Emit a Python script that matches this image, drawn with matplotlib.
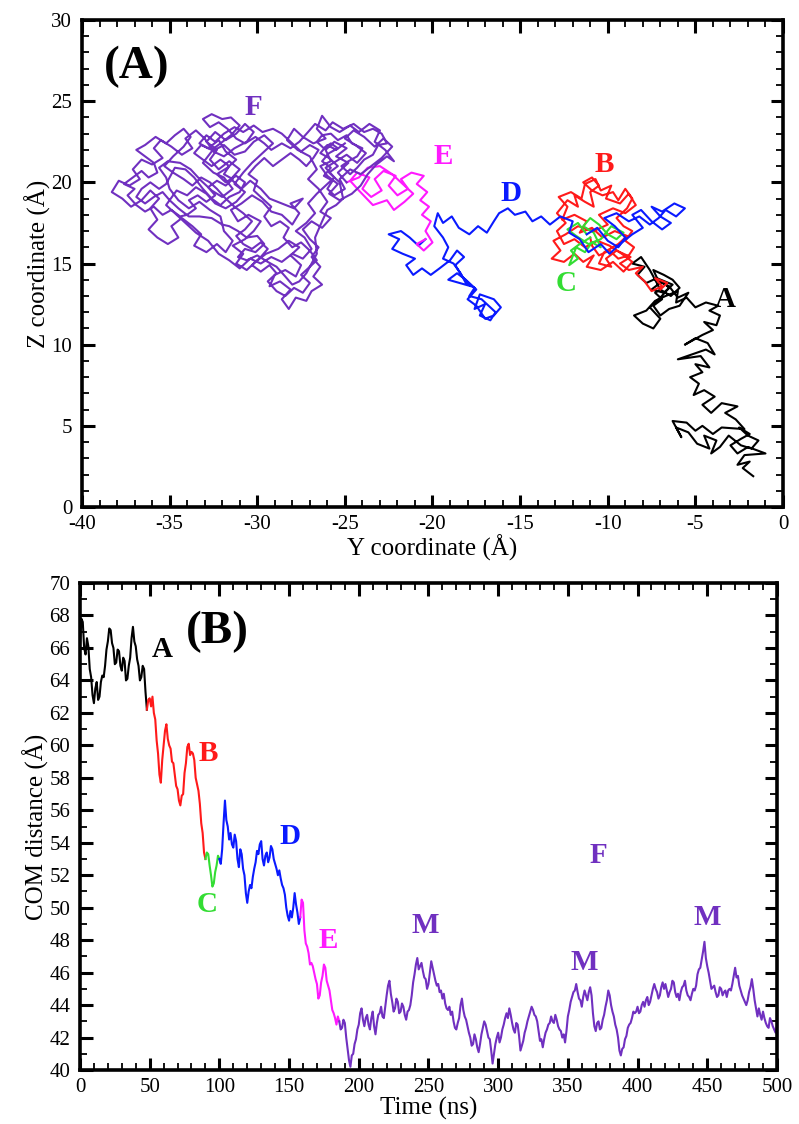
import numpy as np
import matplotlib
matplotlib.use("Agg")
import matplotlib.pyplot as plt
from matplotlib.ticker import MultipleLocator

plt.rcParams['font.family'] = ['Liberation Serif', 'DejaVu Serif']
plt.rcParams['axes.unicode_minus'] = False

colors = {'A': 'black', 'B': '#ff1a1a', 'C': '#33dd33', 'D': '#0a1aff',
          'E': '#ff1aff', 'F': '#7030c0'}

# ---- panel A: (Y, Z) trajectory, one list per stage ----
traj_A = [(-1.7, 1.9), (-2.3, 2.4), (-1.9, 2.8), (-2.6, 2.6), (-2.2, 3.2), (-1.0, 3.3),
          (-2.0, 3.7), (-2.6, 3.3), (-3.0, 3.8), (-2.4, 4.2), (-1.9, 4.5), (-2.5, 4.9),
          (-2.0, 4.4), (-1.4, 4.1), (-1.8, 3.6), (-2.4, 3.8),
          (-3.1, 4.4), (-3.6, 3.7), (-4.1, 3.3), (-3.8, 4.1), (-4.5, 4.4), (-4.2, 3.6),
          (-4.9, 3.9), (-5.4, 4.6), (-6.1, 4.9), (-5.8, 4.3), (-6.3, 5.3), (-5.5, 5.2),
          (-5.0, 4.7), (-4.6, 5.0), (-4.0, 4.5), (-3.5, 4.9), (-2.2, 4.8), (-2.7, 5.4),
          (-3.3, 5.8), (-2.6, 6.2), (-3.5, 6.4), (-4.1, 5.8), (-4.6, 6.3), (-3.9, 6.8),
          (-4.5, 7.2), (-5.1, 6.9), (-4.8, 7.6), (-5.3, 8.0), (-4.6, 8.3), (-5.0, 8.8),
          (-4.2, 8.6), (-4.7, 9.3), (-6.0, 9.1), (-4.4, 9.7), (-3.9, 9.4), (-4.3, 10.1),
          (-5.0, 10.4), (-5.6, 10.0), (-4.6, 10.6), (-4.0, 10.9), (-4.5, 11.4), (-3.8, 11.2),
          (-3.6, 11.8), (-4.2, 12.1), (-3.7, 12.4), (-4.4, 12.6), (-5.0, 12.3), (-5.5, 12.9),
          (-6.1, 12.6), (-6.0, 13.3), (-6.7, 13.0), (-7.3, 12.7), (-7.8, 12.1), (-8.5, 11.8),
          (-8.0, 11.3), (-7.4, 11.0), (-7.0, 11.6), (-7.6, 12.3), (-7.0, 12.9), (-6.5, 13.5),
          (-6.9, 13.9), (-7.5, 13.4), (-6.8, 13.2), (-6.3, 13.7), (-7.2, 14.1), (-7.8, 13.8),
          (-8.3, 14.3), (-7.9, 14.8), (-8.6, 15.0), (-8.1, 15.4), (-7.6, 14.6), (-7.0, 13.4),
          (-6.4, 13.0), (-5.9, 13.5), (-6.3, 14.0), (-6.8, 14.3), (-7.4, 14.6), (-7.1, 13.9),
          (-6.5, 13.6), (-6.0, 12.9), (-5.4, 13.2), (-5.9, 12.4), (-6.5, 12.2), (-7.0, 11.8),
          (-7.4, 12.4), (-6.9, 12.8), (-7.3, 13.2), (-7.0, 13.4)]

traj_B = [(-7.0, 13.4), (-6.6, 13.8), (-7.3, 14.1), (-6.9, 13.6), (-7.5, 13.3), (-7.9, 13.9),
          (-8.4, 14.4), (-8.0, 14.8), (-8.8, 14.6), (-9.3, 15.0), (-8.7, 15.4), (-9.5, 15.8),
          (-10.1, 15.3), (-9.8, 14.8), (-10.5, 15.0), (-10.2, 15.7), (-9.4, 16.2), (-8.9, 16.7),
          (-9.6, 17.0), (-10.3, 16.6), (-10.9, 17.2), (-11.6, 16.9), (-11.2, 17.6), (-11.9, 18.0),
          (-12.6, 17.7), (-12.3, 18.5), (-12.8, 19.1), (-12.1, 19.4), (-11.5, 19.0), (-11.3, 19.9),
          (-10.7, 20.2), (-10.4, 19.5), (-9.8, 19.8), (-10.1, 19.0), (-9.3, 18.7), (-8.8, 19.3),
          (-8.4, 18.6), (-9.0, 18.1), (-9.7, 18.4), (-10.5, 18.0), (-10.0, 17.4), (-10.8, 17.0),
          (-11.7, 17.3), (-12.4, 16.8), (-13.1, 16.4), (-12.7, 15.8), (-13.2, 15.3), (-12.5, 15.1),
          (-11.9, 15.6), (-11.4, 15.1), (-10.8, 15.5), (-11.2, 14.8), (-10.4, 14.6), (-9.7, 15.1),
          (-9.1, 14.5), (-8.6, 15.1), (-9.2, 15.6), (-9.9, 16.1), (-10.6, 16.4), (-11.3, 16.0),
          (-11.9, 16.5), (-12.5, 16.2), (-12.9, 17.0), (-12.4, 17.5), (-12.9, 18.1), (-12.3, 18.9),
          (-11.7, 18.5), (-11.9, 19.2), (-11.3, 18.8), (-10.8, 18.5), (-11.0, 19.4), (-10.5, 19.8),
          (-10.9, 20.3), (-11.4, 20.0), (-10.9, 19.5), (-10.3, 19.2), (-9.7, 19.4), (-9.4, 18.9),
          (-9.0, 19.6), (-8.6, 19.0), (-8.9, 18.4), (-9.5, 17.8), (-9.1, 17.3), (-8.6, 17.0),
          (-9.0, 16.4), (-8.5, 16.0), (-8.8, 15.5), (-9.4, 15.3), (-9.9, 15.8), (-10.5, 15.5),
          (-10.9, 16.1), (-11.0, 16.6)]

traj_C = [(-11.0, 16.6), (-11.6, 16.2), (-12.1, 15.8), (-11.7, 15.3), (-12.2, 14.9), (-11.8, 16.0),
          (-11.3, 15.7), (-10.9, 16.3), (-10.4, 16.0), (-10.8, 16.9), (-11.4, 17.3), (-11.0, 17.8),
          (-10.5, 17.4), (-10.0, 16.8), (-9.5, 16.5), (-9.1, 16.9), (-9.8, 17.3), (-10.4, 16.5),
          (-11.1, 16.2), (-11.8, 16.7), (-12.3, 17.1), (-11.7, 17.5), (-11.2, 16.8)]

traj_D = [(-11.2, 16.8), (-10.6, 17.2), (-10.0, 16.4), (-9.4, 16.0), (-9.0, 16.6), (-9.6, 17.3),
          (-10.2, 17.8), (-9.5, 18.1), (-8.8, 17.6), (-8.2, 17.9), (-7.6, 17.4), (-7.1, 17.8),
          (-6.7, 18.3), (-6.1, 17.9), (-5.6, 18.4), (-6.2, 18.7), (-6.9, 18.2), (-7.5, 18.5),
          (-7.0, 17.9), (-6.4, 17.5), (-6.9, 17.1), (-7.5, 17.6), (-8.1, 18.3), (-8.6, 18.0),
          (-8.0, 17.2), (-8.6, 16.8), (-9.3, 16.2), (-9.9, 15.6), (-10.4, 16.2), (-11.1, 15.7),
          (-11.6, 16.5), (-12.2, 16.9), (-12.0, 17.6), (-12.7, 17.9), (-13.3, 17.4), (-13.8, 17.9),
          (-14.3, 17.6), (-14.7, 18.2), (-15.3, 18.0), (-15.7, 18.4), (-16.2, 18.1), (-16.5, 17.6),
          (-16.9, 16.9), (-17.4, 17.3), (-17.9, 16.8), (-18.5, 17.2), (-18.9, 17.9), (-19.4, 17.5),
          (-19.7, 18.1), (-19.9, 17.3), (-19.4, 16.6), (-19.1, 16.0), (-19.4, 15.3), (-18.8, 15.0),
          (-18.4, 14.4), (-18.1, 13.8), (-17.6, 13.5), (-17.9, 13.0), (-17.2, 12.8), (-16.8, 12.4),
          (-16.4, 12.0), (-16.7, 11.5), (-17.3, 11.8), (-17.0, 12.5), (-17.6, 12.2), (-17.3, 13.1),
          (-16.5, 12.8), (-16.1, 12.3), (-16.5, 11.8), (-17.0, 11.6), (-17.5, 12.4), (-18.0, 12.8),
          (-17.5, 13.4), (-18.1, 14.0), (-18.6, 14.4), (-19.1, 14.0),
          (-17.8, 13.6), (-18.3, 14.2), (-18.7, 14.9), (-18.2, 15.4), (-18.6, 15.8), (-19.0, 15.2),
          (-19.6, 14.7), (-20.1, 14.3), (-20.6, 14.7), (-21.1, 14.3), (-21.5, 14.9), (-21.0, 15.3),
          (-21.7, 15.6), (-22.3, 15.9), (-21.9, 16.5), (-22.5, 16.8), (-21.8, 17.0), (-21.3, 16.6),
          (-20.8, 16.1), (-20.4, 16.5)]

traj_E = [(-20.4, 16.5), (-20.9, 16.2), (-20.5, 15.8), (-20.0, 16.3), (-20.4, 17.0), (-20.1, 17.6),
          (-20.6, 18.0), (-20.2, 18.5), (-20.7, 18.9), (-20.3, 19.4), (-20.9, 19.9), (-20.5, 20.4),
          (-21.2, 20.6), (-21.8, 20.2), (-21.4, 19.6), (-22.0, 19.2), (-22.5, 19.8), (-22.1, 20.4),
          (-22.8, 20.7), (-23.3, 20.2), (-22.9, 19.5), (-23.5, 19.1), (-24.0, 19.6), (-23.6, 20.3),
          (-24.3, 20.6), (-24.7, 20.1), (-24.2, 19.5), (-23.4, 18.6), (-22.6, 18.9), (-22.2, 18.3),
          (-21.6, 18.8), (-21.1, 19.3), (-21.7, 19.9), (-22.3, 20.5), (-23.0, 21.0), (-23.7, 20.9),
          (-24.2, 20.3), (-24.9, 20.0)]

traj_F = [(-24.9, 20.0), (-25.4, 20.6), (-24.8, 21.2), (-25.5, 21.6), (-24.9, 22.1), (-25.6, 22.5),
          (-26.1, 22.0), (-25.8, 21.3), (-26.4, 21.0), (-26.0, 20.4), (-25.4, 19.9), (-25.9, 19.3),
          (-25.3, 18.9), (-24.6, 19.3), (-24.1, 19.8), (-23.7, 20.5), (-23.2, 21.1), (-22.6, 21.6),
          (-22.2, 21.3), (-22.7, 22.0), (-23.3, 22.5), (-23.0, 23.2), (-23.6, 23.6), (-24.2, 23.1),
          (-24.7, 23.5), (-25.3, 23.1), (-25.8, 23.4), (-26.3, 24.1), (-26.6, 23.3), (-26.1, 22.7),
          (-26.8, 22.4), (-27.4, 22.8), (-27.9, 23.3), (-28.3, 22.6), (-27.7, 22.0), (-27.0, 21.6),
          (-26.6, 20.8), (-27.1, 20.2), (-26.5, 19.6), (-26.0, 18.8), (-26.4, 18.2), (-25.8, 17.8),
          (-26.3, 17.2), (-26.9, 17.6), (-27.4, 17.1), (-27.0, 16.5), (-26.5, 16.0), (-26.9, 15.4),
          (-26.4, 14.8), (-26.8, 14.2), (-26.3, 13.7), (-26.9, 13.3), (-27.2, 12.7), (-27.8, 12.9),
          (-28.2, 12.2), (-28.6, 12.8), (-28.1, 13.4), (-28.7, 13.9), (-29.3, 13.6), (-29.0, 14.3),
          (-28.4, 14.6), (-27.8, 14.2), (-27.5, 14.9), (-28.1, 15.5), (-27.6, 16.0), (-28.2, 16.4),
          (-28.8, 15.9), (-29.5, 15.6), (-30.1, 15.1), (-30.6, 14.6), (-31.2, 15.0), (-30.8, 15.6),
          (-31.4, 16.1), (-30.7, 16.5), (-30.2, 17.0), (-29.8, 17.6), (-30.5, 18.0), (-31.1, 17.6),
          (-31.5, 18.3), (-30.9, 18.7), (-30.3, 19.2), (-29.7, 18.8), (-29.2, 18.2), (-28.6, 18.0),
          (-28.0, 17.4), (-27.6, 18.1), (-28.1, 18.7), (-27.4, 19.0), (-27.9, 18.4), (-28.6, 18.7),
          (-29.3, 19.0), (-29.8, 19.6), (-30.4, 20.1), (-30.9, 19.6), (-31.5, 20.2), (-31.0, 20.8),
          (-31.6, 21.3), (-32.2, 20.8), (-32.7, 21.4), (-32.3, 22.0), (-32.9, 22.5), (-32.4, 23.1),
          (-31.8, 22.6), (-31.2, 23.0), (-30.7, 23.6), (-30.2, 23.1), (-30.6, 22.5), (-31.3, 22.1),
          (-31.9, 21.6), (-32.5, 21.9), (-33.0, 22.7), (-33.5, 23.2), (-34.1, 22.7), (-33.7, 22.1),
          (-34.3, 21.7), (-34.9, 22.2), (-35.5, 22.6), (-35.9, 22.1), (-35.4, 21.5), (-36.0, 21.1),
          (-36.6, 21.4), (-37.1, 20.8), (-36.7, 20.2), (-37.3, 19.8), (-37.9, 20.1), (-38.3, 19.4),
          (-37.7, 19.0), (-37.2, 18.5), (-36.6, 18.9), (-36.1, 19.5), (-35.6, 19.0), (-36.1, 18.4),
          (-35.7, 17.7), (-36.2, 17.1), (-35.7, 16.6), (-35.1, 16.2), (-34.5, 16.6), (-34.9, 17.3),
          (-34.3, 17.8), (-33.7, 17.3), (-33.2, 16.8), (-33.6, 16.1), (-32.9, 15.7), (-32.3, 16.2),
          (-31.8, 15.7), (-31.4, 16.4), (-31.9, 17.0), (-32.1, 17.9), (-32.7, 18.3), (-33.3, 18.8),
          (-33.9, 18.4), (-34.5, 18.9), (-35.0, 19.6), (-35.2, 20.3), (-35.6, 20.9), (-35.1, 21.3),
          (-34.4, 21.2), (-33.8, 20.8), (-33.2, 20.1), (-32.6, 19.5), (-32.0, 19.1), (-31.4, 19.6),
          (-31.9, 20.3), (-32.5, 20.6), (-33.1, 21.2), (-32.6, 21.9), (-31.9, 22.3), (-31.3, 21.7),
          (-30.7, 21.9), (-30.2, 22.5), (-29.6, 22.9), (-29.1, 22.4), (-29.7, 21.8), (-30.3, 21.2),
          (-30.8, 20.6), (-31.3, 19.9), (-30.7, 19.4), (-31.2, 18.8), (-31.8, 18.4), (-32.4, 18.7),
          (-32.9, 19.3), (-33.5, 19.7), (-34.0, 19.2), (-34.6, 19.5), (-35.2, 18.6), (-34.7, 18.1),
          (-34.1, 17.5), (-33.5, 16.9), (-32.8, 16.4), (-32.2, 15.6), (-31.6, 15.2), (-31.0, 14.7),
          (-30.4, 15.3), (-29.8, 15.0), (-29.2, 15.4), (-28.6, 15.1), (-28.0, 15.6), (-27.4, 15.3),
          (-26.9, 15.9), (-27.3, 16.6), (-27.8, 17.0), (-27.2, 17.5), (-26.7, 18.1), (-27.1, 18.7),
          (-26.6, 19.3), (-26.1, 19.8), (-25.6, 20.3), (-26.1, 20.9), (-25.5, 21.3), (-24.9, 21.7),
          (-24.3, 21.2), (-23.8, 21.8), (-24.4, 22.3), (-25.0, 22.7), (-24.5, 23.2), (-23.9, 22.8),
          (-23.3, 22.2), (-22.8, 22.7), (-22.3, 22.2), (-22.9, 21.5), (-23.5, 21.0), (-24.1, 20.5),
          (-24.7, 20.8), (-25.3, 20.2), (-25.0, 19.6), (-25.6, 19.2),
          (-26.0, 19.6), (-25.7, 20.1), (-26.2, 20.4), (-25.8, 20.9), (-26.3, 21.3), (-25.9, 21.8),
          (-25.4, 22.1), (-25.8, 22.4), (-26.2, 22.1), (-26.6, 22.5), (-26.3, 22.9), (-25.8, 23.0),
          (-25.4, 22.6), (-24.9, 22.9), (-24.6, 22.4), (-24.0, 22.1), (-24.3, 21.6), (-24.8, 21.3),
          (-25.2, 21.0), (-24.7, 20.5), (-24.3, 20.9), (-23.9, 21.4), (-23.4, 21.7), (-23.1, 22.3),
          (-22.6, 22.4), (-22.9, 23.0), (-23.4, 23.3), (-23.9, 23.1), (-24.5, 23.6), (-25.1, 23.3),
          (-25.7, 23.7), (-26.1, 23.2), (-26.7, 23.6), (-27.1, 23.1), (-27.6, 22.5), (-28.1, 22.1),
          (-28.6, 22.4), (-29.2, 22.0), (-29.6, 22.4), (-30.1, 22.8), (-30.7, 22.4), (-31.2, 22.7),
          (-31.7, 23.3), (-32.2, 23.7), (-32.7, 23.4), (-33.1, 23.9), (-32.6, 24.2), (-32.0, 23.9),
          (-31.5, 24.0), (-31.0, 23.5), (-31.5, 22.9), (-32.1, 22.4), (-32.6, 22.0), (-33.2, 22.3),
          (-33.6, 21.8), (-33.1, 21.4), (-32.6, 21.0), (-32.1, 21.4), (-31.6, 21.0), (-31.9, 20.5),
          (-31.4, 20.2), (-31.8, 19.8), (-32.3, 20.1), (-32.8, 19.7), (-32.4, 19.2), (-32.9, 18.8),
          (-33.4, 19.2), (-33.9, 18.9), (-33.5, 18.4), (-34.0, 18.0), (-34.4, 17.9), (-34.9, 18.3),
          (-35.4, 18.0), (-35.9, 18.5), (-36.4, 18.2), (-36.9, 18.6), (-37.4, 19.2), (-37.0, 19.6),
          (-37.6, 19.9), (-37.1, 20.3), (-36.6, 20.7), (-36.2, 20.3), (-35.7, 20.6), (-35.9, 21.2),
          (-36.4, 21.6), (-36.9, 22.0), (-36.4, 22.3), (-35.8, 22.8), (-35.2, 22.4), (-34.7, 22.9),
          (-34.2, 23.3), (-33.8, 22.8), (-34.2, 22.2), (-34.8, 21.6), (-35.3, 21.0), (-34.8, 20.6),
          (-34.2, 20.2), (-33.7, 19.8), (-33.2, 20.3), (-32.7, 20.0), (-32.3, 19.6), (-31.8, 19.0),
          (-31.3, 18.5), (-30.8, 18.1), (-30.3, 17.6), (-30.7, 17.1), (-31.2, 16.7), (-30.8, 16.2),
          (-30.3, 15.9), (-29.8, 16.3), (-29.4, 15.9), (-29.8, 15.4), (-30.3, 14.9), (-29.8, 14.5),
          (-29.3, 14.9), (-28.9, 14.4), (-29.4, 13.9), (-28.9, 13.3), (-28.4, 13.0), (-27.9, 13.5),
          (-27.4, 13.2), (-27.0, 13.8), (-27.5, 14.3), (-27.1, 14.7), (-26.6, 15.2), (-27.0, 15.8),
          (-27.5, 16.3), (-28.0, 16.0), (-28.5, 16.6), (-28.2, 17.2), (-28.7, 17.6), (-29.2, 17.3),
          (-29.6, 17.9), (-29.2, 18.5), (-29.7, 19.0), (-30.2, 19.5), (-30.0, 20.1), (-30.5, 20.5),
          (-30.1, 21.0), (-29.6, 21.5), (-29.1, 21.0), (-28.6, 21.4), (-28.1, 21.8), (-27.6, 21.4),
          (-27.2, 21.0), (-26.8, 21.5), (-26.5, 22.0),
          (-27.0, 22.3), (-27.5, 21.9), (-28.0, 22.4), (-28.6, 23.0), (-29.1, 23.3), (-29.7, 23.1),
          (-30.2, 23.5), (-30.8, 23.1), (-31.3, 23.4), (-31.9, 23.0), (-32.4, 22.5), (-32.9, 22.9),
          (-33.3, 22.4), (-32.8, 22.1), (-32.2, 22.6), (-31.8, 21.9), (-31.2, 21.4), (-31.7, 20.9),
          (-32.3, 20.5), (-31.8, 20.0), (-31.2, 20.4), (-30.7, 20.0), (-31.0, 19.4), (-31.6, 19.1),
          (-32.1, 18.6), (-32.6, 19.0), (-33.1, 19.6), (-33.6, 20.3), (-34.1, 20.8), (-34.7, 20.9),
          (-35.2, 19.9), (-35.6, 19.6), (-36.1, 20.0), (-36.6, 19.6), (-36.9, 19.1), (-36.4, 18.7),
          (-35.9, 19.1), (-35.4, 19.4), (-35.0, 18.9), (-34.5, 18.4), (-33.9, 17.9), (-33.3, 17.9),
          (-32.6, 17.8), (-32.0, 17.4), (-31.6, 17.3), (-31.1, 17.0), (-30.6, 16.6), (-30.0, 16.7),
          (-29.6, 16.2), (-30.1, 15.7), (-30.7, 15.9), (-31.1, 15.4), (-30.6, 15.2), (-30.0, 15.5),
          (-29.4, 15.1), (-28.9, 14.8), (-28.4, 14.2), (-28.0, 13.7), (-27.6, 13.9), (-27.2, 14.4),
          (-26.6, 15.6), (-26.7, 16.6), (-26.3, 17.6), (-26.0, 18.3), (-25.5, 18.6), (-25.1, 19.0),
          (-25.3, 20.0), (-25.9, 20.6), (-25.4, 21.0), (-25.9, 21.5), (-26.4, 21.8), (-26.0, 22.3),
          (-25.5, 22.0), (-25.0, 22.4)]

# ---- panel B: COM distance (A), ~1 ns sampling per stage ----
span = {'A': (0, 48), 'B': (48, 90), 'C': (90, 100), 'D': (100, 158),
        'E': (158, 186), 'F': (186, 500)}
dist_A = [66.2, 67.8, 67.6, 66.0, 65.6, 66.6, 66.1, 64.7, 64.2, 63.1, 62.6, 63.5, 63.9,
          62.8, 63.0, 63.9, 64.3, 64.2, 64.9, 65.9, 66.4, 67.2, 67.1, 66.3, 66.0, 65.0,
          65.1, 65.9, 65.8, 64.9, 64.6, 65.4, 65.2, 64.0, 64.1, 64.9, 65.4, 66.6, 67.3,
          66.4, 66.1, 65.3, 64.9, 64.0, 64.2, 64.9, 64.7, 63.3, 62.2]
dist_B = [62.2, 62.8, 62.9, 62.4, 63.0, 62.0, 61.6, 60.3, 59.5, 58.2, 57.7, 59.1, 60.0,
          60.9, 61.3, 60.4, 60.0, 59.8, 59.0, 58.9, 58.2, 57.5, 57.3, 56.6, 56.3, 56.9,
          57.0, 58.3, 58.9, 59.9, 60.1, 59.4, 59.6, 59.5, 59.1, 58.0, 57.6, 57.2, 56.4,
          55.2, 54.6, 53.4, 53.0]
dist_C = [53.0, 53.4, 53.3, 52.6, 52.0, 51.3, 51.5, 52.2, 52.6, 53.2, 53.0]
dist_D = [53.0, 52.7, 53.6, 55.2, 56.6, 55.4, 55.0, 54.2, 54.6, 53.9, 53.7, 54.5, 54.1,
          53.0, 52.5, 53.6, 53.3, 52.4, 52.0, 50.9, 50.3, 51.0, 51.4, 51.2, 51.9, 52.4,
          52.8, 53.5, 53.3, 53.9, 54.1, 53.0, 52.6, 53.2, 53.4, 52.8, 53.1, 53.8, 53.6,
          53.0, 52.7, 52.4, 52.0, 52.3, 51.8, 51.4, 51.2, 50.8, 50.0, 49.5, 49.2, 49.8,
          49.4, 50.0, 50.9, 50.2, 49.7, 49.0, 49.4]
dist_E = [49.4, 50.5, 50.3, 48.6, 47.8, 47.6, 47.2, 46.5, 46.6, 46.4, 46.0, 45.6, 45.3,
          44.4, 44.6, 45.4, 45.8, 46.5, 46.3, 45.5, 45.2, 44.9, 44.3, 43.7, 43.5, 43.2,
          42.8, 43.3, 43.0]
dist_F = [43.0, 42.5, 42.6, 43.1, 42.9, 42.0, 41.3, 40.6, 40.2, 40.9, 41.0, 41.6, 41.9,
          42.5, 42.8, 43.5, 43.8, 43.1, 42.7, 43.2, 43.4, 42.8, 42.5, 43.2, 43.6, 42.7,
          42.2, 42.9, 43.4, 43.5, 43.9, 43.3, 43.2, 43.9, 44.6, 45.2, 45.5, 44.7, 44.2,
          43.6, 43.8, 44.4, 44.2, 43.5, 43.6, 44.1, 43.9, 43.4, 43.1, 43.6, 43.7, 44.0,
          44.6, 45.4, 45.9, 46.5, 46.9, 46.2, 46.4, 46.6, 46.1, 45.7, 45.6, 45.0, 45.3,
          46.0, 46.7, 46.3, 45.9, 45.5, 45.2, 45.3, 44.8, 44.9, 44.4, 44.7, 44.1, 43.8,
          43.7, 43.9, 43.4, 43.6, 43.0, 42.6, 42.5, 42.9, 43.2, 44.0, 44.4, 43.7, 43.3,
          43.1, 42.7, 42.3, 42.0, 41.5, 41.6, 42.2, 41.9, 41.4, 41.1, 41.6, 42.2, 42.6,
          43.0, 42.8, 42.4, 42.0, 41.9, 41.2, 40.4, 41.0, 41.6, 42.0, 42.3, 41.7, 42.0,
          42.5, 42.8, 43.2, 43.5, 43.2, 43.8, 43.4, 42.9, 42.5, 42.3, 42.9, 42.8, 42.1,
          41.2, 41.5, 41.8, 42.3, 42.6, 43.0, 43.3, 43.6, 43.9, 43.7, 43.4, 43.3, 43.0,
          42.4, 41.8, 41.9, 41.4, 41.9, 42.3, 42.5, 42.8, 42.9, 43.3, 43.0, 42.9, 43.4,
          43.1, 42.7, 42.5, 42.4, 42.0, 42.2, 41.7, 42.4, 43.3, 43.7, 44.2, 44.5, 44.8,
          44.9, 45.3, 44.8, 44.4, 44.3, 43.9, 44.5, 44.9, 44.6, 44.3, 44.8, 45.1, 44.6,
          43.5, 42.7, 42.4, 42.9, 43.0, 42.5, 42.6, 43.1, 43.4, 43.9, 44.3, 44.9, 44.6,
          44.0, 43.6, 43.3, 42.8, 42.5, 42.0, 41.2, 40.9, 41.3, 41.4, 41.9, 42.1, 42.6,
          42.8, 42.9, 43.2, 43.6, 43.5, 43.6, 43.9, 43.5, 43.6, 44.0, 44.2, 43.9, 44.3,
          44.5, 44.0, 44.2, 44.6, 45.0, 45.3, 45.0, 44.8, 44.4, 44.6, 45.1, 45.4, 45.0,
          45.3, 44.9, 44.5, 44.8, 45.0, 45.5, 45.4, 44.8, 44.5, 44.7, 44.3, 44.8, 45.1,
          45.2, 45.5, 44.9, 44.6, 44.5, 44.3, 44.7, 45.0, 44.9, 45.2, 45.9, 46.2, 46.3,
          46.8, 47.3, 47.9, 46.9, 46.4, 46.0, 45.5, 45.0, 45.1, 45.2, 44.8, 44.5, 44.6,
          45.1, 45.0, 44.6, 44.8, 44.9, 44.5, 44.9, 45.0, 44.9, 45.3, 45.8, 46.3, 45.7,
          45.8, 45.2, 44.9, 44.6, 44.4, 44.2, 44.0, 44.3, 44.8, 45.1, 45.6, 45.0, 44.3,
          43.8, 43.3, 43.8, 43.4, 43.1, 43.6, 43.2, 42.9, 42.7, 42.6, 43.2, 43.0, 42.7,
          42.5, 42.3, 42.7]

trajs = {'A': traj_A, 'B': traj_B, 'C': traj_C, 'D': traj_D, 'E': traj_E, 'F': traj_F}
dists = {'A': dist_A, 'B': dist_B, 'C': dist_C, 'D': dist_D, 'E': dist_E, 'F': dist_F}

# label positions in data coords
labels_a = {'A': (-3.3, 12.8), 'B': (-10.2, 21.1), 'C': (-12.4, 13.8),
            'D': (-15.5, 19.3), 'E': (-19.4, 21.6), 'F': (-30.2, 24.6)}
labels_b = {'A': (58.8, 65.9), 'B': (91.9, 59.5), 'C': (91.1, 50.2),
            'D': (150.6, 54.4), 'E': (178.0, 48.0), 'F': (371.6, 53.2)}
m_marks = [(247.5, 48.9), (361.5, 46.6), (449.8, 49.4)]


def style(ax, xmaj, xmin, ymaj, ymin):
    ax.xaxis.set_major_locator(MultipleLocator(xmaj))
    ax.xaxis.set_minor_locator(MultipleLocator(xmin))
    ax.yaxis.set_major_locator(MultipleLocator(ymaj))
    ax.yaxis.set_minor_locator(MultipleLocator(ymin))
    ax.tick_params(which='both', direction='in', top=True, right=True, labelsize=15)
    ax.tick_params(which='major', length=9, width=2.2)
    ax.tick_params(axis='x', which='major', pad=6)
    ax.tick_params(axis='y', which='major', pad=7)
    ax.tick_params(which='minor', length=5, width=1.3)
    for sp in ax.spines.values():
        sp.set_linewidth(2.6)


fig = plt.figure(figsize=(7.99, 11.24), dpi=100)
ax1 = fig.add_axes([0.1026, 0.5489, 0.8774, 0.4333])
ax2 = fig.add_axes([0.1001, 0.048, 0.8723, 0.4333])

for k, pts in trajs.items():
    ys = [p[0] for p in pts]
    zs = [p[1] for p in pts]
    ax1.plot(ys, zs, color=colors[k], lw=1.5)
for k, (x, y) in labels_a.items():
    ax1.text(x, y, k, color=colors[k], fontsize=21, fontweight='bold', ha='center', va='center')
ax1.text(-36.9, 27.1, '(A)', fontsize=34, fontweight='bold', ha='center', va='center')
ax1.set_xlim(-40, 0)
ax1.set_ylim(0, 30)
ax1.set_xlabel('Y coordinate (Å)', fontsize=18, labelpad=0)
ax1.set_ylabel('Z coordinate (Å)', fontsize=18, labelpad=0)
style(ax1, 5, 1, 5, 1)

for k, vals in dists.items():
    t = np.linspace(span[k][0], span[k][1], len(vals))
    ax2.plot(t, vals, color=colors[k], lw=1.5)
for k, (x, y) in labels_b.items():
    ax2.text(x, y, k, color=colors[k], fontsize=21, fontweight='bold', ha='center', va='center')
for x, y in m_marks:
    ax2.text(x, y, 'M', color=colors['F'], fontsize=21, fontweight='bold', ha='center', va='center')
ax2.text(98.3, 67.0, '(B)', fontsize=34, fontweight='bold', ha='center', va='center')
ax2.set_xlim(0, 500)
ax2.set_ylim(40, 70)
ax2.set_xlabel('Time (ns)', fontsize=18, labelpad=0)
ax2.set_ylabel('COM distance (Å)', fontsize=18, labelpad=0)
style(ax2, 50, 10, 2, 1)

fig.savefig('out.png', dpi=100)
